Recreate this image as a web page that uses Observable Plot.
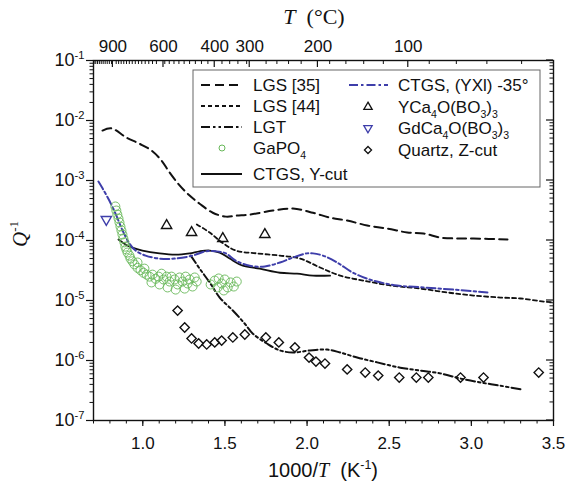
<!DOCTYPE html>
<html><head><meta charset="utf-8">
<script src="https://cdn.jsdelivr.net/npm/d3@7"></script>
<script src="https://cdn.jsdelivr.net/npm/@observablehq/plot@0.6"></script>
<style>
body{margin:0;background:#fff}
#chart{width:575px;height:484px;position:relative}
</style>
</head><body><div id="chart"></div>
<script>
// ---------- data (x = 1000/T in K^-1, y = Q^-1) ----------
const lgs35X = [0.755,0.809,0.900,0.980,1.053,1.114,1.163,1.224,1.285,1.346,1.426,1.506,1.573,1.651,1.792,1.914,2.036,2.140,2.244,2.366,2.488,2.610,2.708,2.812,2.915,3.013,3.220];
const lgs35Y = [6.8e-3,7.4e-3,5.2e-3,4.1e-3,3.16e-3,2.15e-3,1.36e-3,8.3e-4,5.6e-4,4.1e-4,2.9e-4,2.5e-4,2.6e-4,2.7e-4,3.16e-4,3.4e-4,2.9e-4,2.4e-4,2.15e-4,1.78e-4,1.58e-4,1.36e-4,1.31e-4,1.12e-4,1.08e-4,1.08e-4,1.04e-4];

const lgs44X = [1.329,1.407,1.481,1.566,1.694,1.835,1.957,2.079,2.201,2.341,2.506,2.689,2.854,3.013,3.178,3.300,3.440,3.500];
const lgs44Y = [1.85e-4,1.36e-4,9.3e-5,6.8e-5,6.1e-5,5.6e-5,5.0e-5,3.55e-5,2.6e-5,2.15e-5,1.78e-5,1.58e-5,1.36e-5,1.21e-5,1.12e-5,1.08e-5,9.6e-6,9.3e-6];

const lgtX = [1.292,1.346,1.407,1.468,1.548,1.621,1.670,1.755,1.835,1.914,2.018,2.122,2.201,2.305,2.427,2.567,2.689,2.811,2.934,3.056,3.178,3.300];
const lgtY = [5.6e-5,3.4e-5,2.0e-5,1.12e-5,6.8e-6,4.1e-6,2.8e-6,1.92e-6,1.47e-6,1.36e-6,1.47e-6,1.52e-6,1.36e-6,1.12e-6,9.3e-7,7.6e-7,6.8e-7,6.1e-7,5.0e-7,4.3e-7,3.8e-7,3.3e-7];

const ctgsYX = [0.852,0.895,0.937,0.998,1.102,1.199,1.285,1.346,1.407,1.468,1.529,1.609,1.712,1.835,1.939,2.036,2.140];
const ctgsYY = [1.04e-4,8.6e-5,7.6e-5,6.8e-5,6.1e-5,5.8e-5,6.1e-5,6.6e-5,6.8e-5,6.3e-5,5.0e-5,3.8e-5,3.4e-5,2.9e-5,2.8e-5,2.6e-5,2.6e-5];

const ctgs35X = [0.730,0.755,0.797,0.834,0.877,0.919,0.956,1.017,1.102,1.199,1.303,1.383,1.444,1.505,1.566,1.651,1.743,1.835,1.914,1.999,2.036,2.097,2.183,2.280,2.402,2.549,2.708,2.891,3.098];
const ctgs35Y = [9.6e-4,7.4e-4,4.6e-4,2.8e-4,1.47e-4,8.9e-5,6.8e-5,5.6e-5,5.0e-5,5.0e-5,5.6e-5,6.6e-5,6.6e-5,6.1e-5,4.6e-5,3.8e-5,3.7e-5,4.3e-5,5.2e-5,6.1e-5,6.1e-5,5.6e-5,4.3e-5,2.9e-5,2.15e-5,1.78e-5,1.65e-5,1.52e-5,1.36e-5];

const gapo4X = [0.833,0.839,0.845,0.852,0.858,0.864,0.870,0.876,0.882,0.888,0.894,0.900,0.907,0.919,0.925,0.937,0.949,0.968,0.986,1.004,1.023,1.041,1.059,1.078,1.096,1.114,1.126,1.145,1.163,1.175,1.194,1.212,1.224,1.242,1.261,1.273,1.285,1.303,1.316,1.328,1.053,1.102,1.151,1.200,1.255,1.413,1.438,1.462,1.480,1.499,1.517,1.535,1.554,1.572,1.493,1.456,0.968,1.010];
const gapo4Y = [3.69e-4,3.16e-4,2.71e-4,2.33e-4,2.0e-4,1.71e-4,1.47e-4,1.26e-4,1.08e-4,9.3e-5,7.9e-5,7.1e-5,6.3e-5,5.6e-5,5.0e-5,4.5e-5,4.0e-5,3.5e-5,3.2e-5,2.9e-5,2.7e-5,2.5e-5,2.7e-5,2.3e-5,2.5e-5,2.8e-5,2.24e-5,2.5e-5,2.07e-5,2.5e-5,2.24e-5,1.85e-5,2.42e-5,2.07e-5,2.5e-5,1.92e-5,2.24e-5,1.71e-5,2.42e-5,2.07e-5,2.0e-5,1.85e-5,1.65e-5,1.52e-5,1.58e-5,1.85e-5,2.15e-5,2.33e-5,1.92e-5,2.24e-5,1.65e-5,2.0e-5,1.71e-5,2.07e-5,1.47e-5,1.65e-5,4.3e-5,3.4e-5];

const ycaX = [1.145,1.297,1.487,1.743];
const ycaY = [1.78e-4,1.36e-4,1.08e-4,1.26e-4];

const gdcaX = [0.778];
const gdcaY = [2.24e-4];

const quartzX = [1.212,1.255,1.297,1.340,1.389,1.438,1.480,1.548,1.621,1.749,1.828,1.926,2.012,2.054,2.109,2.244,2.354,2.433,2.561,2.665,2.738,2.934,3.074,3.410];
const quartzY = [6.8e-6,3.55e-6,2.33e-6,1.92e-6,1.85e-6,2.0e-6,2.15e-6,2.42e-6,2.71e-6,2.42e-6,2.0e-6,1.65e-6,1.12e-6,9.6e-7,8.9e-7,7.1e-7,6.3e-7,5.6e-7,5.2e-7,5.2e-7,5.2e-7,5.2e-7,5.2e-7,6.3e-7];

// ---------- axes / tick labels ----------
const xMajorTicks = [1.0,1.5,2.0,2.5,3.0,3.5];
const xMinorTicks = d3.range(7, 36).map(d => d / 10);
const yMajorTicks = [1e-7,1e-6,1e-5,1e-4,1e-3,1e-2,1e-1];
const yMinorTicks = yMajorTicks.slice(0, -1).flatMap(d => [2,3,4,5,6,7,8,9].map(k => k * d));
const topTickLabels = ["900","600","400","300","200","100"];
const topTickPos = [0.818,1.126,1.438,1.651,2.066,2.616];
const topMinorT = d3.range(20, 1120, 20);

const legend1 = ["LGS [35]","LGS [44]","LGT","GaPO_{4}","CTGS, Y-cut"];
const legend2 = ["CTGS, (YXl) -35°","YCa_{4}O(BO_{3})_{3}","GdCa_{4}O(BO_{3})_{3}","Quartz, Z-cut"];

const zip = (xs, ys) => xs.map((x, i) => ({x, y: ys[i]}));
const BLUE = "#3e3eaa", GREEN = "#68b85a", INK = "#111";
const SANS = "Liberation Sans, Arial, sans-serif";
const SERIF = "Liberation Serif, Times New Roman, serif";
const topMap = new Map(topTickPos.map((p, i) => [p, topTickLabels[i]]));

const sty = {
  lgs35: {stroke: INK, strokeWidth: 2, strokeDasharray: "9,5"},
  lgs44: {stroke: INK, strokeWidth: 1.8, strokeDasharray: "4,3"},
  lgt:   {stroke: INK, strokeWidth: 2, strokeDasharray: "9,3,2.5,3,2.5,3"},
  ctgsY: {stroke: INK, strokeWidth: 1.8},
  ctgs35:{stroke: BLUE, strokeWidth: 2, strokeDasharray: "9,3,2.5,3"}
};

const plot = Plot.plot({
  width: 575, height: 484,
  marginLeft: 93, marginRight: 22, marginTop: 60, marginBottom: 64,
  style: {fontFamily: SANS, fontSize: "17px", color: INK, background: "#fff", overflow: "visible"},
  x: {domain: [0.7, 3.5]},
  y: {type: "log", domain: [1e-7, 1e-1]},
  marks: [
    Plot.line(zip(lgs35X, lgs35Y), {x: "x", y: "y", ...sty.lgs35, curve: "catmull-rom"}),
    Plot.line(zip(lgs44X, lgs44Y), {x: "x", y: "y", ...sty.lgs44, curve: "catmull-rom"}),
    Plot.line(zip(lgtX, lgtY), {x: "x", y: "y", ...sty.lgt, curve: "catmull-rom"}),
    Plot.line(zip(ctgsYX, ctgsYY), {x: "x", y: "y", ...sty.ctgsY, curve: "catmull-rom"}),
    Plot.line(zip(ctgs35X, ctgs35Y), {x: "x", y: "y", ...sty.ctgs35, curve: "catmull-rom"}),
    Plot.dot(zip(gapo4X, gapo4Y), {x: "x", y: "y", r: 4.5, stroke: GREEN, strokeWidth: 1, fill: "none", strokeOpacity: 0.9}),
    Plot.dot(zip(ycaX, ycaY), {x: "x", y: "y", symbol: "triangle", r: 3.8, stroke: INK, strokeWidth: 1.4, fill: "none"}),
    Plot.dot(zip(gdcaX, gdcaY), {x: "x", y: "y", symbol: "triangle", rotate: 180, r: 3.8, stroke: BLUE, strokeWidth: 1.4, fill: "none"}),
    Plot.dot(zip(quartzX, quartzY), {x: "x", y: "y", symbol: "diamond2", r: 4.2, stroke: INK, strokeWidth: 1.4, fill: "none"}),
    Plot.axisX({anchor: "bottom", ticks: xMajorTicks, tickFormat: d => d.toFixed(1), tickSize: 6, tickPadding: 10, label: null, fontSize: 17, strokeWidth: 1.2}),
    Plot.axisX({anchor: "bottom", ticks: xMinorTicks, tickFormat: () => "", tickSize: 3.5, label: null, strokeWidth: 1}),
    Plot.axisX({anchor: "top", ticks: topTickPos, tickFormat: d => topMap.get(d), tickSize: 0, tickPadding: 9, label: null, fontSize: 17}),
    Plot.axisY({anchor: "left", ticks: yMajorTicks, tickFormat: d => `10^{${Math.round(Math.log10(d))}}`, tickSize: 7, tickPadding: 2, label: null, fontSize: 18, strokeWidth: 1.2}),
    Plot.axisY({anchor: "left", ticks: yMinorTicks, tickFormat: () => "", tickSize: 3.5, label: null, strokeWidth: 1}),
    Plot.frame({stroke: INK, strokeWidth: 1.4})
  ]
});
document.getElementById("chart").appendChild(plot);

// rich text helper: ^{sup} _{sub} *{italic serif}
function rich(sel, str, size) {
  sel.text(null);
  const parts = str.split(/(\^\{[^}]*\}|_\{[^}]*\}|\*\{[^}]*\})/).filter(s => s !== "");
  let shift = 0;
  for (const p of parts) {
    let t = p, kind = "n";
    if (p.startsWith("^{")) { kind = "sup"; t = p.slice(2, -1); }
    else if (p.startsWith("_{")) { kind = "sub"; t = p.slice(2, -1); }
    else if (p.startsWith("*{")) { kind = "it"; t = p.slice(2, -1); }
    const target = kind === "sup" ? -0.42 * size : kind === "sub" ? 0.32 * size : 0;
    const ts = sel.append("tspan").attr("dy", target - shift).text(t);
    shift = target;
    if (kind === "sup" || kind === "sub") ts.attr("font-size", size * 0.62);
    if (kind === "it") ts.attr("font-family", SERIF).attr("font-style", "italic");
  }
}

const svg = d3.select(plot);
svg.selectAll("text").each(function() {
  const s = this.textContent;
  if (s.includes("^{")) rich(d3.select(this), s, 18);
});

const xs = plot.scale("x"), ys = plot.scale("y");
const X = v => xs.apply(v), Y = v => ys.apply(v);
const g = svg.append("g").attr("stroke", INK).attr("fill", "none");
const yTop = Y(1e-1), xRight = X(3.5);
// inward top ticks
topMinorT.forEach(T => {
  if ([100,200,300,400,600,900].includes(T)) return;
  const p = 0.97 * 1000 / (T + 273.15);
  if (p <= 0.7 || p >= 3.5) return;
  g.append("line").attr("x1", X(p)).attr("x2", X(p)).attr("y1", yTop).attr("y2", yTop + 4).attr("stroke-width", 1);
});
topTickPos.forEach(p => g.append("line").attr("x1", X(p)).attr("x2", X(p)).attr("y1", yTop).attr("y2", yTop + 7).attr("stroke-width", 1.2));
// inward right ticks
yMajorTicks.forEach(v => g.append("line").attr("x1", xRight).attr("x2", xRight - 7).attr("y1", Y(v)).attr("y2", Y(v)).attr("stroke-width", 1.2));
yMinorTicks.forEach(v => g.append("line").attr("x1", xRight).attr("x2", xRight - 3.5).attr("y1", Y(v)).attr("y2", Y(v)).attr("stroke-width", 1));

// titles
const t1 = svg.append("text").attr("x", 314).attr("y", 24).attr("text-anchor", "middle")
  .attr("font-family", SERIF).attr("font-size", 22).attr("fill", INK);
rich(t1, "*{T}  (°C)", 22);
const t2 = svg.append("text").attr("x", 323).attr("y", 477).attr("text-anchor", "middle")
  .attr("font-family", SANS).attr("font-size", 20).attr("fill", INK);
rich(t2, "1000/*{T}  (K^{-1})", 20);
const t3 = svg.append("text").attr("transform", "translate(27,234) rotate(-90)").attr("text-anchor", "middle")
  .attr("font-family", SERIF).attr("font-size", 21).attr("fill", INK);
rich(t3, "*{Q}^{-1}", 21);

// legend
const L = svg.append("g").attr("font-family", SANS).attr("font-size", 17).attr("fill", INK).attr("text-anchor", "start");
L.append("rect").attr("x", 193).attr("y", 70).attr("width", 347).attr("height", 117)
  .attr("fill", "#fff").attr("stroke", "#666").attr("stroke-width", 1);
const rows1 = [85, 106, 127, 148, 174];
const rows2 = [85, 107, 128, 150];
const lineKeys1 = ["lgs35", "lgs44", "lgt", null, "ctgsY"];
legend1.forEach((lab, i) => {
  const cy = rows1[i];
  if (lineKeys1[i]) {
    const s = sty[lineKeys1[i]];
    L.append("line").attr("x1", 201).attr("x2", 242).attr("y1", cy).attr("y2", cy)
      .attr("stroke", s.stroke).attr("stroke-width", s.strokeWidth).attr("stroke-dasharray", s.strokeDasharray || null);
  } else {
    L.append("circle").attr("cx", 222).attr("cy", cy).attr("r", 3).attr("fill", "none").attr("stroke", GREEN).attr("stroke-width", 1);
  }
  rich(L.append("text").attr("x", 253).attr("y", cy + 6).attr("text-anchor", "start"), lab, 17);
});
legend2.forEach((lab, i) => {
  const cy = rows2[i];
  if (i === 0) {
    const s = sty.ctgs35;
    L.append("line").attr("x1", 349).attr("x2", 388).attr("y1", cy).attr("y2", cy)
      .attr("stroke", s.stroke).attr("stroke-width", s.strokeWidth).attr("stroke-dasharray", s.strokeDasharray);
  } else {
    const sym = i === 3 ? d3.symbolDiamond2 : d3.symbolTriangle;
    const rot = i === 2 ? 180 : 0;
    L.append("path").attr("d", d3.symbol(sym, i === 3 ? 32 : 30)())
      .attr("transform", `translate(368,${cy}) rotate(${rot})`)
      .attr("fill", "none").attr("stroke", i === 2 ? BLUE : INK).attr("stroke-width", 1.3);
  }
  rich(L.append("text").attr("x", 398).attr("y", cy + 6).attr("text-anchor", "start"), lab, 17);
});
</script>
</body></html>
